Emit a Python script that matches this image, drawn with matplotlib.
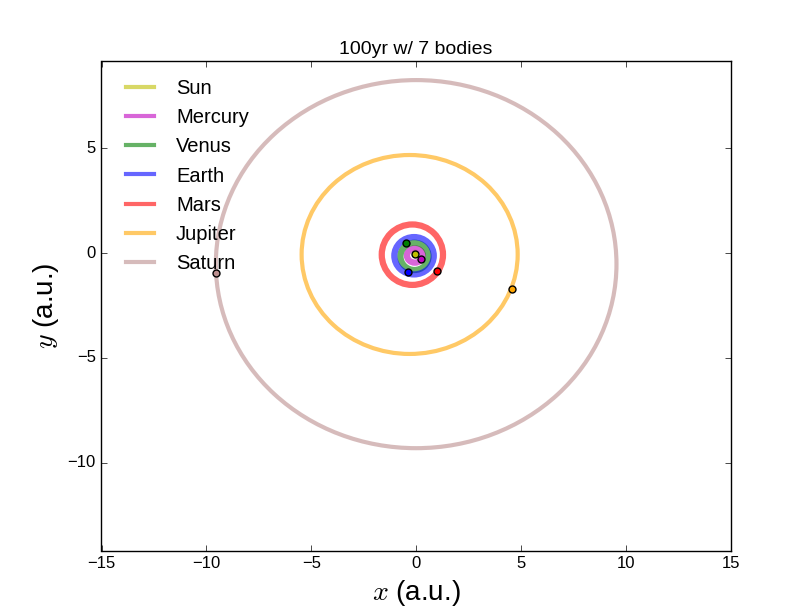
import numpy as np
import matplotlib
matplotlib.use('Agg')
import matplotlib.pyplot as plt
from matplotlib.patches import Ellipse
from matplotlib.lines import Line2D

plt.style.use('classic')
plt.rcParams['font.family'] = ['Liberation Sans', 'DejaVu Sans']
plt.rcParams['mathtext.fontset'] = 'cm'

# bodies and colours
bodies = ['Sun', 'Mercury', 'Venus', 'Earth', 'Mars', 'Jupiter', 'Saturn']
colors = ['y', 'm', 'g', 'b', 'r', 'orange', 'rosybrown']

# orbit traces after 100yr (centre and half-widths, a.u.)
orbit_cx = [-0.05, -0.06, -0.08, -0.10, -0.18, -0.31, 0.00]
orbit_cy = [0.00, -0.12, -0.16, -0.13, -0.08, -0.07, -0.53]
orbit_a = [0.01, 0.38, 0.67, 0.94, 1.46, 5.15, 9.55]
orbit_b = [0.01, 0.34, 0.65, 0.89, 1.44, 4.74, 8.77]

# final positions
pos_x = [-0.07, 0.21, -0.48, -0.39, 0.99, 4.55, -9.55]
pos_y = [-0.03, -0.30, 0.48, -0.90, -0.84, -1.71, -0.95]

fig = plt.figure(figsize=(8.12, 6.12), dpi=100, facecolor='white')
ax = fig.add_subplot(111)

handles = []
for i in range(len(bodies)):
    # inner orbits wobble a bit over 100yr, so their traces look wider
    lw = 4.5 if orbit_a[i] < 2 else 3
    orb = Ellipse((orbit_cx[i], orbit_cy[i]), 2 * orbit_a[i], 2 * orbit_b[i],
                  fill=False, edgecolor=colors[i], lw=lw, alpha=0.6)
    ax.add_patch(orb)
    handles.append(Line2D([], [], color=colors[i], lw=3, alpha=0.6, label=bodies[i]))

for i in range(len(bodies)):
    ax.plot(pos_x[i], pos_y[i], 'o', color=colors[i], markersize=5,
            markeredgecolor='k', markeredgewidth=1)

ax.set_xlim(-15, 15)
ax.set_ylim(-14.19, 9.14)
ax.set_xlabel(r'$x$ (a.u.)', fontsize=20)
ax.set_ylabel(r'$y$ (a.u.)', fontsize=20)
ax.set_title('100yr w/ 7 bodies', fontsize=14)
ax.legend(handles=handles, loc='upper left', frameon=False, fontsize=14.5)

plt.savefig('out.png', dpi=100, facecolor='white')
